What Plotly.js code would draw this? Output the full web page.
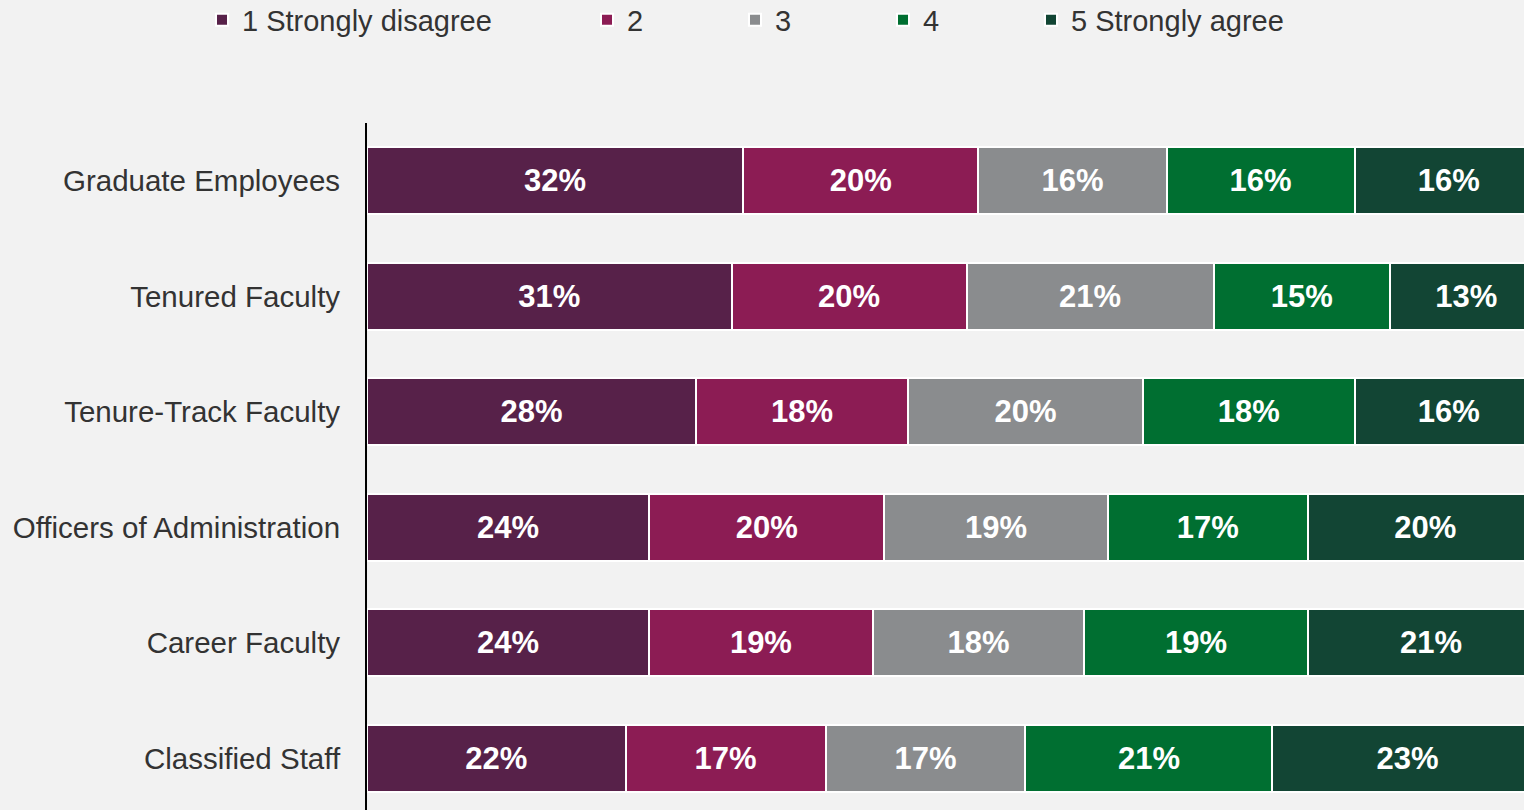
<!DOCTYPE html>
<html>
<head>
<meta charset="utf-8">
<script src="https://cdn.plot.ly/plotly-3.0.1.min.js"></script>
<style>html,body{margin:0;padding:0;background:#f2f2f2;}#chart{width:1524px;height:810px;}</style>
</head>
<body>
<div id="chart"></div>
<script>
const categories = ["Graduate Employees", "Tenured Faculty", "Tenure-Track Faculty", "Officers of Administration", "Career Faculty", "Classified Staff"];
const seriesNames = ["1 Strongly disagree", "2", "3", "4", "5 Strongly agree"];
const stronglyDisagree = [32, 31, 28, 24, 24, 22];
const disagree = [20, 20, 18, 20, 19, 17];
const neutral = [16, 21, 20, 19, 18, 17];
const agree = [16, 15, 18, 17, 19, 21];
const stronglyAgree = [16, 13, 16, 20, 21, 23];

const seriesValues = [stronglyDisagree, disagree, neutral, agree, stronglyAgree];
const colors = ["#572149", "#8C1C54", "#8A8C8E", "#006F31", "#124534"];
const legendIds = ["legend", "legend2", "legend3", "legend4", "legend5"];
const legendX = [202, 587, 735, 883, 1031];

const traces = seriesValues.map((vals, i) => ({
  type: "bar",
  orientation: "h",
  name: seriesNames[i],
  y: categories,
  x: vals,
  legend: legendIds[i],
  marker: {color: colors[i], line: {color: "#ffffff", width: 2}},
  texttemplate: "%{x}%",
  textposition: "inside",
  insidetextanchor: "middle",
  textangle: 0,
  constraintext: "none",
  textfont: {family: "Liberation Sans, Arial, sans-serif", size: 31, color: "#ffffff", weight: "bold"},
  hoverinfo: "none",
  cliponaxis: true
}));

const layout = {
  width: 1524,
  height: 810,
  paper_bgcolor: "#f2f2f2",
  plot_bgcolor: "#f2f2f2",
  barmode: "stack",
  bargap: 0.42,
  margin: {l: 367, r: 0, t: 123, b: 0, pad: 0},
  font: {family: "Liberation Sans, Arial, sans-serif", color: "#333333"},
  xaxis: {range: [0, 98.4], visible: false, showgrid: false, zeroline: false, fixedrange: true},
  yaxis: {
    type: "category",
    categoryorder: "array",
    categoryarray: categories,
    range: [5.447, -0.5],
    showline: true, linecolor: "#000000", linewidth: 2,
    ticks: "", showgrid: false, zeroline: false,
    ticklabelstandoff: 19,
    tickfont: {size: 29.5, color: "#333333", family: "Liberation Sans, Arial, sans-serif"},
    fixedrange: true
  },
  showlegend: true
};
legendIds.forEach((id, i) => {
  layout[id] = {
    orientation: "h",
    xref: "container", yref: "container",
    x: legendX[i] / 1524, xanchor: "left",
    y: 1 - 20 / 810, yanchor: "middle",
    bgcolor: "rgba(0,0,0,0)",
    font: {size: 29, color: "#333333", family: "Liberation Sans, Arial, sans-serif"},
    itemwidth: 30,
    itemclick: false, itemdoubleclick: false
  };
});

Plotly.newPlot("chart", traces, layout, {displayModeBar: false, staticPlot: true});
</script>
</body>
</html>
